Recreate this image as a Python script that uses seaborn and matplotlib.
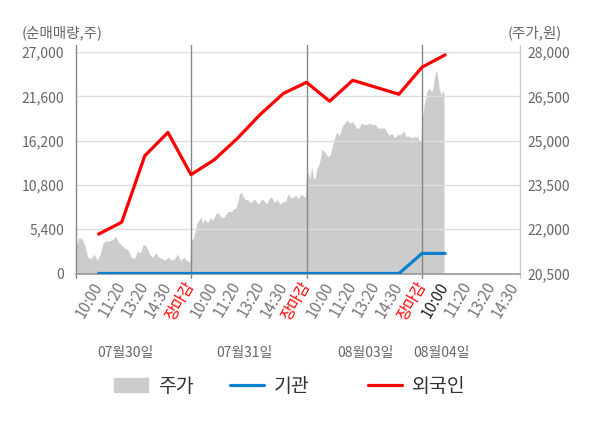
import numpy as np
import pandas as pd
import matplotlib
matplotlib.use("Agg")
import matplotlib.pyplot as plt
import seaborn as sns
from matplotlib.patches import Patch
from matplotlib.lines import Line2D

# x-axis labels (one slot each), four trading days
time_labels = ["10:00", "11:20", "13:20", "14:30", "장마감"] * 3 + ["10:00", "11:20", "13:20", "14:30"]
dates = ["07월30일", "07월31일", "08월03일", "08월04일"]

# net buying volume (shares) at each labelled slot
foreign = [4800, 6250, 14350, 17200, 12050, 13850, 16450, 19400, 21950, 23300,
           21000, 23550, 22700, 21850, 25150, 26650]
institution = [0, 0, 0, 0, 0, 0, 0, 0, 0, 0, 0, 0, 0, 0, 2450, 2450]

# intraday share price (won), one list per day
price_d1 = [21350, 21700, 21700, 21450, 21050, 21000, 21150, 20950, 21150, 21550,
            21600, 21600, 21650, 21750, 21550, 21450, 21350, 21300, 21050, 21000,
            21250, 21200, 21500, 21400, 21150, 21050, 21200, 21050, 21000, 20950,
            21050, 20950, 21000, 21150, 20950, 21050, 20950, 20900]
price_d2 = [21700, 21650, 21900, 22200, 22300, 22400, 22200, 22350, 22250, 22250,
            22400, 22300, 22400, 22550, 22550, 22450, 22400, 22400, 22500, 22600,
            22600, 22600, 22700, 22700, 22900, 23200, 23250, 23100, 23000, 23000,
            22950, 22900, 23000, 23000, 22900, 22850, 23000, 23000, 22950, 22850,
            23000, 23100, 23050, 22900, 23000, 22950, 22850, 22900, 22950, 22950,
            23200, 23100, 23050, 23100, 23150, 23050, 23100, 23200, 23100, 23100]
price_d3 = [23850, 23900, 23700, 24100, 23750, 23700, 24050, 24150, 24350, 24700,
            24650, 24600, 24500, 24450, 24550, 24800, 25000, 25200, 25300, 25150,
            25300, 25500, 25550, 25650, 25700, 25600, 25600, 25650, 25550, 25450,
            25400, 25450, 25600, 25550, 25550, 25550, 25550, 25600, 25550, 25550,
            25550, 25500, 25400, 25450, 25400, 25450, 25400, 25300, 25200, 25200,
            25250, 25150, 25100, 25200, 25200, 25200, 25250, 25350, 25150, 25150,
            25150, 25100, 25100, 25150, 25100, 25150, 25000, 24950]
price_d4 = [25750, 26000, 26300, 26450, 26650, 26750, 26750, 26700, 26650, 26800,
            27100, 27300, 27400, 27100, 26800, 26650, 26550, 26700, 26600]

sns.set_theme(style="white")
plt.rcParams["font.family"] = ["Noto Sans CJK KR", "DejaVu Sans"]

fig = plt.figure(figsize=(6, 4.28), dpi=100)
ax = fig.add_axes([75.5 / 600, 1 - 273.5 / 428, 444.5 / 600, 221.5 / 428])
ax2 = ax.twinx()
ax.set_zorder(ax2.get_zorder() + 1)
ax.patch.set_visible(False)
ax2.set_facecolor("#f4f4f4")

# price area (right axis); day 4 only runs to 10:00
px, pv = [], []
spans = [(0, 5), (5, 10), (10, 15), (15, 16)]
for (a, b), day in zip(spans, [price_d1, price_d2, price_d3, price_d4]):
    px.extend(np.linspace(a, b - 0.05, len(day)))
    pv.extend(day)
ax2.fill_between(px, pv, 20500, color="#cccccc", lw=0)
ax2.set_ylim(20500, 28000)

slot = np.arange(1, len(foreign) + 1)
df = pd.DataFrame({"slot": slot, "외국인": foreign, "기관": institution})
sns.lineplot(data=df, x="slot", y="기관", ax=ax, color="#0a80d0", lw=2.3, zorder=3)
sns.lineplot(data=df, x="slot", y="외국인", ax=ax, color="#ff0000", lw=2.3, zorder=4)
ax.set_xlabel("")
ax.set_ylabel("")

xmax = 19.24
ax.set_xlim(0, xmax)
ax.set_ylim(0, 27000)
ax.set_yticks(np.arange(0, 27001, 5400))
ax.set_yticklabels([f"{v:,}" for v in range(0, 27001, 5400)])
ax.grid(axis="y", color="#dddddd", lw=1)
ax.grid(axis="x", visible=False)
ax2.grid(False)
ax2.set_yticks(np.arange(20500, 28001, 1500))
ax2.set_yticklabels([f"{v:,}" for v in range(20500, 28001, 1500)])

for a in (ax, ax2):
    for s in a.spines.values():
        s.set_visible(False)
ax.spines["bottom"].set_visible(True)
ax.spines["bottom"].set_color("#999999")

ax.tick_params(axis="y", length=0, pad=8, labelsize=10, labelcolor="#666666")
ax2.tick_params(axis="y", length=0, pad=5, labelsize=10, labelcolor="#666666")

ax.set_xticks(np.arange(1, len(time_labels) + 1))
ax.set_xticklabels(time_labels)
ax.tick_params(axis="x", length=0, pad=7, labelsize=11)
for i, t in enumerate(ax.get_xticklabels()):
    t.set_rotation(60)
    t.set_ha("right")
    t.set_va("center")
    t.set_rotation_mode("anchor")
    if time_labels[i] == "장마감":
        t.set_color("#ff0000")
    elif i == 15:
        t.set_color("#222222")
    else:
        t.set_color("#777777")

for xv in [0, 5, 10, 15]:
    ax.axvline(xv, ymin=-0.02, ymax=1.03, color="#888888", lw=1, clip_on=False, zorder=2)
ax.axvline(xmax, ymin=-0.02, ymax=1.03, color="#cccccc", lw=1, clip_on=False, zorder=2)

for xp, d in zip([125, 244, 365, 441], dates):
    fig.text(xp / 600, 1 - 353 / 428, d, ha="center", va="center", fontsize=10, color="#666666")

fig.text(22 / 600, 1 - 33 / 428, "(순매매량,주)", ha="left", va="center", fontsize=10.5, color="#666666")
fig.text(562 / 600, 1 - 33 / 428, "(주가,원)", ha="right", va="center", fontsize=10.5, color="#666666")

handles = [Patch(color="#cccccc", label="주가"),
           Line2D([], [], color="#0a80d0", lw=2.3, label="기관"),
           Line2D([], [], color="#ff0000", lw=2.3, label="외국인")]
for h, xl in zip(handles, [114, 230, 368]):
    fig.legend(handles=[h], loc="center left", bbox_to_anchor=(xl / 600, 1 - 386 / 428),
               frameon=False, borderpad=0, borderaxespad=0, handlelength=1.75,
               handletextpad=0.5, fontsize=14, labelcolor="#333333")

fig.savefig("out.png", dpi=100)
